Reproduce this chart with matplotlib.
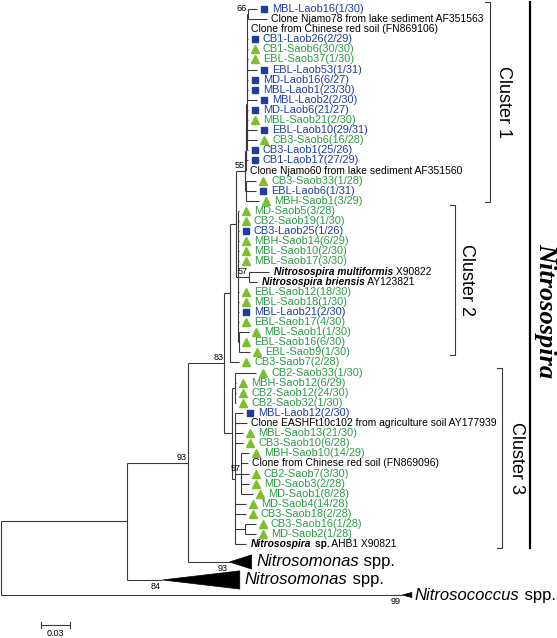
import matplotlib
matplotlib.use('Agg')
import matplotlib.pyplot as plt
from matplotlib.patches import Polygon

plt.rcParams['font.family'] = ['Liberation Sans', 'DejaVu Sans']

# leaf labels, top to bottom
labels = [
    'MBL-Laob16(1/30)', 'Clone Njamo78 from lake sediment AF351563',
    'Clone from Chinese red soil (FN869106)', 'CB1-Laob26(2/29)', 'CB1-Saob6(30/30)',
    'EBL-Saob37(1/30)', 'EBL-Laob53(1/31)', 'MD-Laob16(6/27)', 'MBL-Laob1(23/30)',
    'MBL-Laob2(2/30)', 'MD-Laob6(21/27)', 'MBL-Saob21(2/30)', 'EBL-Laob10(29/31)',
    'CB3-Saob6(16/28)', 'CB3-Laob1(25/26)', 'CB1-Laob17(27/29)',
    'Clone Njamo60 from lake sediment AF351560', 'CB3-Saob33(1/28)', 'EBL-Laob6(1/31)',
    'MBH-Saob1(3/29)', 'MD-Saob5(3/28)', 'CB2-Saob19(1/30)', 'CB3-Laob25(1/26)',
    'MBH-Saob14(6/29)', 'MBL-Saob10(2/30)', 'MBL-Saob17(3/30)',
    'Nitrosospira multiformis X90822', 'Nitrosospira briensis AY123821',
    'EBL-Saob12(18/30)', 'MBL-Saob18(1/30)', 'MBL-Laob21(2/30)', 'EBL-Saob17(4/30)',
    'MBL-Saob1(1/30)', 'EBL-Saob16(6/30)', 'EBL-Saob9(1/30)', 'CB3-Saob7(2/28)',
    'CB2-Saob33(1/30)', 'MBH-Saob12(6/29)', 'CB2-Saob12(24/30)', 'CB2-Saob32(1/30)',
    'MBL-Laob12(2/30)', 'Clone EASHFt10c102 from agriculture soil AY177939',
    'MBL-Saob13(21/30)', 'CB3-Saob10(6/28)', 'MBH-Saob10(14/29)',
    'Clone from Chinese red soil (FN869096)', 'CB2-Saob7(3/30)', 'MD-Saob3(2/28)',
    'MD-Saob1(8/28)', 'MD-Saob4(14/28)', 'CB3-Saob18(2/28)', 'CB3-Saob16(1/28)',
    'MD-Saob2(1/28)', 'Nitrosospira sp. AHB1 X90821',
]
# L = Laob clone (square), S = Saob clone (triangle), C = reference clone, N = named strain
groups = 'LCCLSSLLLLLSLSLLCSLS' + 'SSLSSSNNSSLSSSSS' + 'SSSSLCSSSCSSSSSSSN'
# named strains: (bold italic, bold, regular)
strain_parts = {
    26: ('Nitrosospira multiformis', '', ' X90822'),
    27: ('Nitrosospira briensis', '', ' AY123821'),
    53: ('Nitrosospira', ' sp.', ' AHB1 X90821'),
}
# collapsed groups
coll_genus = ['Nitrosomonas', 'Nitrosomonas', 'Nitrosococcus']
coll_depth = [0.0228, 0.080, 0.010]
coll_boot = [93, 84, 99]

def L(i, bl):
    return (bl, i, None)

def N(bl, kids, boot=None):
    return (bl, kids, boot)

def Cl(k, bl):
    return (bl, 'c%d' % k, None)

# cluster 1
node66 = N(0.001, [L(0, 0.0093), L(1, 0.0196)], 66)
p4 = N(0.0005, [node66, L(2, 0.0), L(3, 0.0005), L(4, 0.0005), L(5, 0.0005), L(6, 0.0103),
                L(7, 0.0005), L(8, 0.0005), L(9, 0.0103)])
p3 = N(0.0005, [p4, L(10, 0.001), L(11, 0.001),
                N(0.0005, [L(12, 0.0103), L(13, 0.0103)]), L(14, 0.001)])
p2 = N(0.0005, [p3, L(15, 0.0015)])
p1 = N(0.0005, [p2, L(16, 0.0005)])
q1 = N(0.0005, [L(17, 0.011), L(18, 0.011), L(19, 0.014)])
cluster1 = N(0.0093, [p1, q1], 55)

# cluster 2
cluster2 = N(0.0021, [L(20, 0.0005), L(21, 0.0005), L(22, 0.0005), L(23, 0.0005),
                      L(24, 0.0005), L(25, 0.0005),
                      N(0.011, [L(26, 0.0207), L(27, 0.0083)], 57),
                      L(28, 0.0005), L(29, 0.0005), L(30, 0.0005), L(31, 0.0005),
                      N(0.001, [L(32, 0.010), L(33, 0.0), L(34, 0.0113)])])

# cluster 3
c3a = N(0.003, [L(36, 0.0217), L(37, 0.001), L(38, 0.001), L(39, 0.001)])
n57 = N(0.0062, [L(44, 0.0078), L(45, 0.0072), L(46, 0.0078), L(47, 0.0078),
                 L(48, 0.0119)], 57)
c3b = N(0.003, [L(40, 0.0083), L(41, 0.0124), L(42, 0.0083), L(43, 0.0083), n57,
                L(49, 0.0109), L(50, 0.0109),
                N(0.0103, [L(51, 0.0109), L(52, 0.0109)]), L(53, 0.0114)])
cluster3 = N(0.0083, [c3a, c3b])

tree = N(0.0, [
    N(0.130, [
        N(0.063, [
            N(0.038, [
                N(0.0062, [N(0.0062, [cluster1, cluster2]), L(35, 0.0093)]),
                cluster3], 83),
            Cl(0, 0.0434)], 93),
        Cl(1, 0.037)]),
    Cl(2, 0.415)])

# layout: pixel mapping
PX = 29 / 0.03      # px per substitution unit
X0, Y0, RH = 1.0, 9.0, 10.1
coll_rows = [54.75, 56.53, 58.02]
coll_half = [0.7, 0.9, 0.25]

def dx(p):
    return p / PX

def dy(p):
    return p / RH

fig = plt.figure(figsize=(5.57, 6.38), dpi=100)
ax = fig.add_axes([0, 0, 1, 1])
ax.set_xlim(-X0 / PX, (557 - X0) / PX)
ax.set_ylim((638 - Y0) / RH, -Y0 / RH)
ax.axis('off')

LC = '#3a3a3a'
LW = 0.8
BLUE = '#1f3e9c'
GTXT = '#2c9c46'
GMK = '#7dbf2d'
leaf_end = {}

def draw(node, x0):
    bl, kids, boot = node
    x = x0 + bl
    if isinstance(kids, int):
        y = kids
        leaf_end[kids] = x
    elif isinstance(kids, str):
        k = int(kids[1:])
        y = coll_rows[k]
        d, h = coll_depth[k], coll_half[k]
        ax.add_patch(Polygon([(x, y), (x + d, y - h), (x + d, y + h)], closed=True,
                             facecolor='black', edgecolor='black', lw=0.5))
        t = ax.text(x + d + dx(5 if k < 2 else 3), y, coll_genus[k], fontsize=12,
                    style='italic', va='center', ha='left')
        leaf_end[kids] = (t, y)
        ax.text(x - dx(2), y + dy(2), str(coll_boot[k]), fontsize=6.5,
                ha='right', va='top')
    else:
        ys = [draw(c, x) for c in kids]
        y = (ys[0] + ys[-1]) / 2
        ax.plot([x, x], [min(ys), max(ys)], color=LC, lw=LW, solid_capstyle='butt')
        if boot is not None:
            ax.text(x - dx(1), y - dy(1), str(boot), fontsize=6.5, ha='right', va='bottom')
    if bl > 0:
        ax.plot([x0, x], [y, y], color=LC, lw=LW, solid_capstyle='butt')
    return y

draw(tree, 0.0)

fig.canvas.draw()
renderer = fig.canvas.get_renderer()
inv = ax.transData.inverted()

def text_after(t):
    bb = t.get_window_extent(renderer)
    return inv.transform((bb.x1, 0))[0]

# collapsed labels: add " spp."
for key in ['c0', 'c1', 'c2']:
    t, y = leaf_end[key]
    ax.text(text_after(t), y, ' spp.', fontsize=12, va='center', ha='left')

for i, lab in enumerate(labels):
    x = leaf_end[i]
    g = groups[i]
    if g == 'L':
        ax.plot(x + dx(7), i, marker='s', ms=5.0, color=BLUE, mec=BLUE)
        ax.text(x + dx(15), i, lab, color=BLUE, fontsize=7.9, va='center', ha='left')
    elif g == 'S':
        ax.plot(x + dx(7), i, marker='^', ms=6.3, color=GMK, mec=GMK)
        ax.text(x + dx(15), i, lab, color=GTXT, fontsize=7.9, va='center', ha='left')
    elif g == 'C':
        ax.text(x + dx(4), i, lab, color='black', fontsize=7.5, va='center', ha='left')
    else:
        a, b, c = strain_parts[i]
        t = ax.text(x + dx(5), i, a, fontsize=7.4, style='italic', weight='bold',
                    va='center', ha='left')
        xx = text_after(t)
        if b:
            t = ax.text(xx, i, b, fontsize=7.4, weight='bold', va='center', ha='left')
            xx = text_after(t)
        ax.text(xx, i, c, fontsize=7.4, va='center', ha='left')

# cluster brackets
def bracket(xp, y0p, y1p, name, txp):
    x = dx(xp - X0)
    r0, r1 = (y0p - Y0) / RH, (y1p - Y0) / RH
    ax.plot([x - dx(5), x, x, x - dx(5)], [r0, r0, r1, r1], color=LC, lw=LW)
    ax.text(dx(txp - X0), (r0 + r1) / 2, name, rotation=-90, fontsize=13,
            ha='center', va='center')

bracket(490, 2, 202, 'Cluster 1', 503)
bracket(455, 205, 355, 'Cluster 2', 467)
bracket(502, 368, 548, 'Cluster 3', 516)

ax.plot([dx(530 - X0)] * 2, [(2 - Y0) / RH, (548 - Y0) / RH], color='black', lw=1.6)
ax.text(dx(546 - X0), (311 - Y0) / RH, 'Nitrosospira', rotation=-90, fontsize=19,
        family=['Liberation Serif', 'DejaVu Serif'], style='italic', weight='bold',
        ha='center', va='center')

# scale bar
sb = 0.03
sx = dx(41 - X0)
sy = (625 - Y0) / RH
ax.plot([sx, sx + sb], [sy, sy], color=LC, lw=LW)
ax.plot([sx, sx], [sy - dy(3), sy + dy(3)], color=LC, lw=LW)
ax.plot([sx + sb, sx + sb], [sy - dy(3), sy + dy(3)], color=LC, lw=LW)
ax.text(sx + sb / 2, sy + dy(4), '0.03', fontsize=6.5, ha='center', va='top')

fig.savefig('out.png', dpi=100)
